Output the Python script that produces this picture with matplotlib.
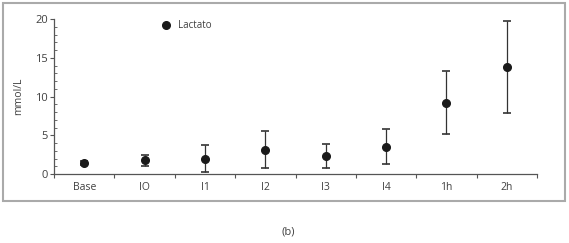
import matplotlib
matplotlib.use("Agg")
import matplotlib.pyplot as plt
from matplotlib.patches import Rectangle
from matplotlib.ticker import MultipleLocator, FixedLocator, NullFormatter

categories = ["Base", "IO", "I1", "I2", "I3", "I4", "1h", "2h"]
lactato = [1.4, 1.8, 1.95, 3.1, 2.3, 3.5, 9.2, 13.8]
err_low = [0.3, 0.8, 1.7, 2.35, 1.5, 2.25, 4.1, 5.95]
err_high = [0.3, 0.65, 1.75, 2.4, 1.55, 2.3, 4.1, 5.9]

txt = "#404040"
plt.rcParams["font.family"] = ["Open Sans", "DejaVu Sans"]

fig = plt.figure(figsize=(5.69, 2.43), dpi=100)
ax = fig.add_axes([54 / 569, 1 - 174 / 243, 483 / 569, 155 / 243])

x = list(range(len(categories)))
ax.errorbar(x, lactato, yerr=[err_low, err_high], fmt="o", color="#1a1a1a",
            ms=5.5, ecolor="#333333", elinewidth=0.9, capsize=3, capthick=1.2)

ax.set_xlim(-0.5, len(categories) - 0.5)
ax.set_ylim(0, 20)
ax.yaxis.set_major_locator(MultipleLocator(5))
ax.yaxis.set_minor_locator(MultipleLocator(1))
ax.xaxis.set_major_locator(FixedLocator([i - 0.5 for i in range(len(categories) + 1)]))
ax.xaxis.set_major_formatter(NullFormatter())
ax.xaxis.set_minor_locator(FixedLocator(x))
ax.set_xticklabels(categories, minor=True)

for s in ["top", "right"]:
    ax.spines[s].set_visible(False)
for s in ["left", "bottom"]:
    ax.spines[s].set_color("#555555")
    ax.spines[s].set_linewidth(0.9)

ax.tick_params(axis="y", which="major", direction="out", length=3, colors="#555555",
               labelcolor=txt, labelsize=8, pad=1.5)
ax.tick_params(axis="y", which="minor", direction="in", length=2.5, colors="#555555")
ax.tick_params(axis="x", which="major", direction="out", length=3, colors="#555555")
ax.tick_params(axis="x", which="minor", length=0, labelcolor=txt, labelsize=7.5, pad=6)

ax.set_ylabel("mmol/L", fontsize=7.5, color=txt, labelpad=8)

# legend
ax.plot([166 / 569], [1 - 25 / 243], "o", color="#1a1a1a", ms=5.5,
        transform=fig.transFigure, clip_on=False)
fig.text(178 / 569, 1 - 25 / 243, "Lactato", fontsize=7, color=txt, va="center")

# frame
fig.patches.append(Rectangle((3 / 569, 1 - 201 / 243), 562 / 569, 198 / 243,
                             transform=fig.transFigure, fill=False,
                             edgecolor="#aaaaaa", linewidth=1.5))

fig.text(288 / 569, 1 - 232 / 243, "(b)", fontsize=8, color=txt, ha="center", va="center")

fig.savefig("out.png", dpi=100)
